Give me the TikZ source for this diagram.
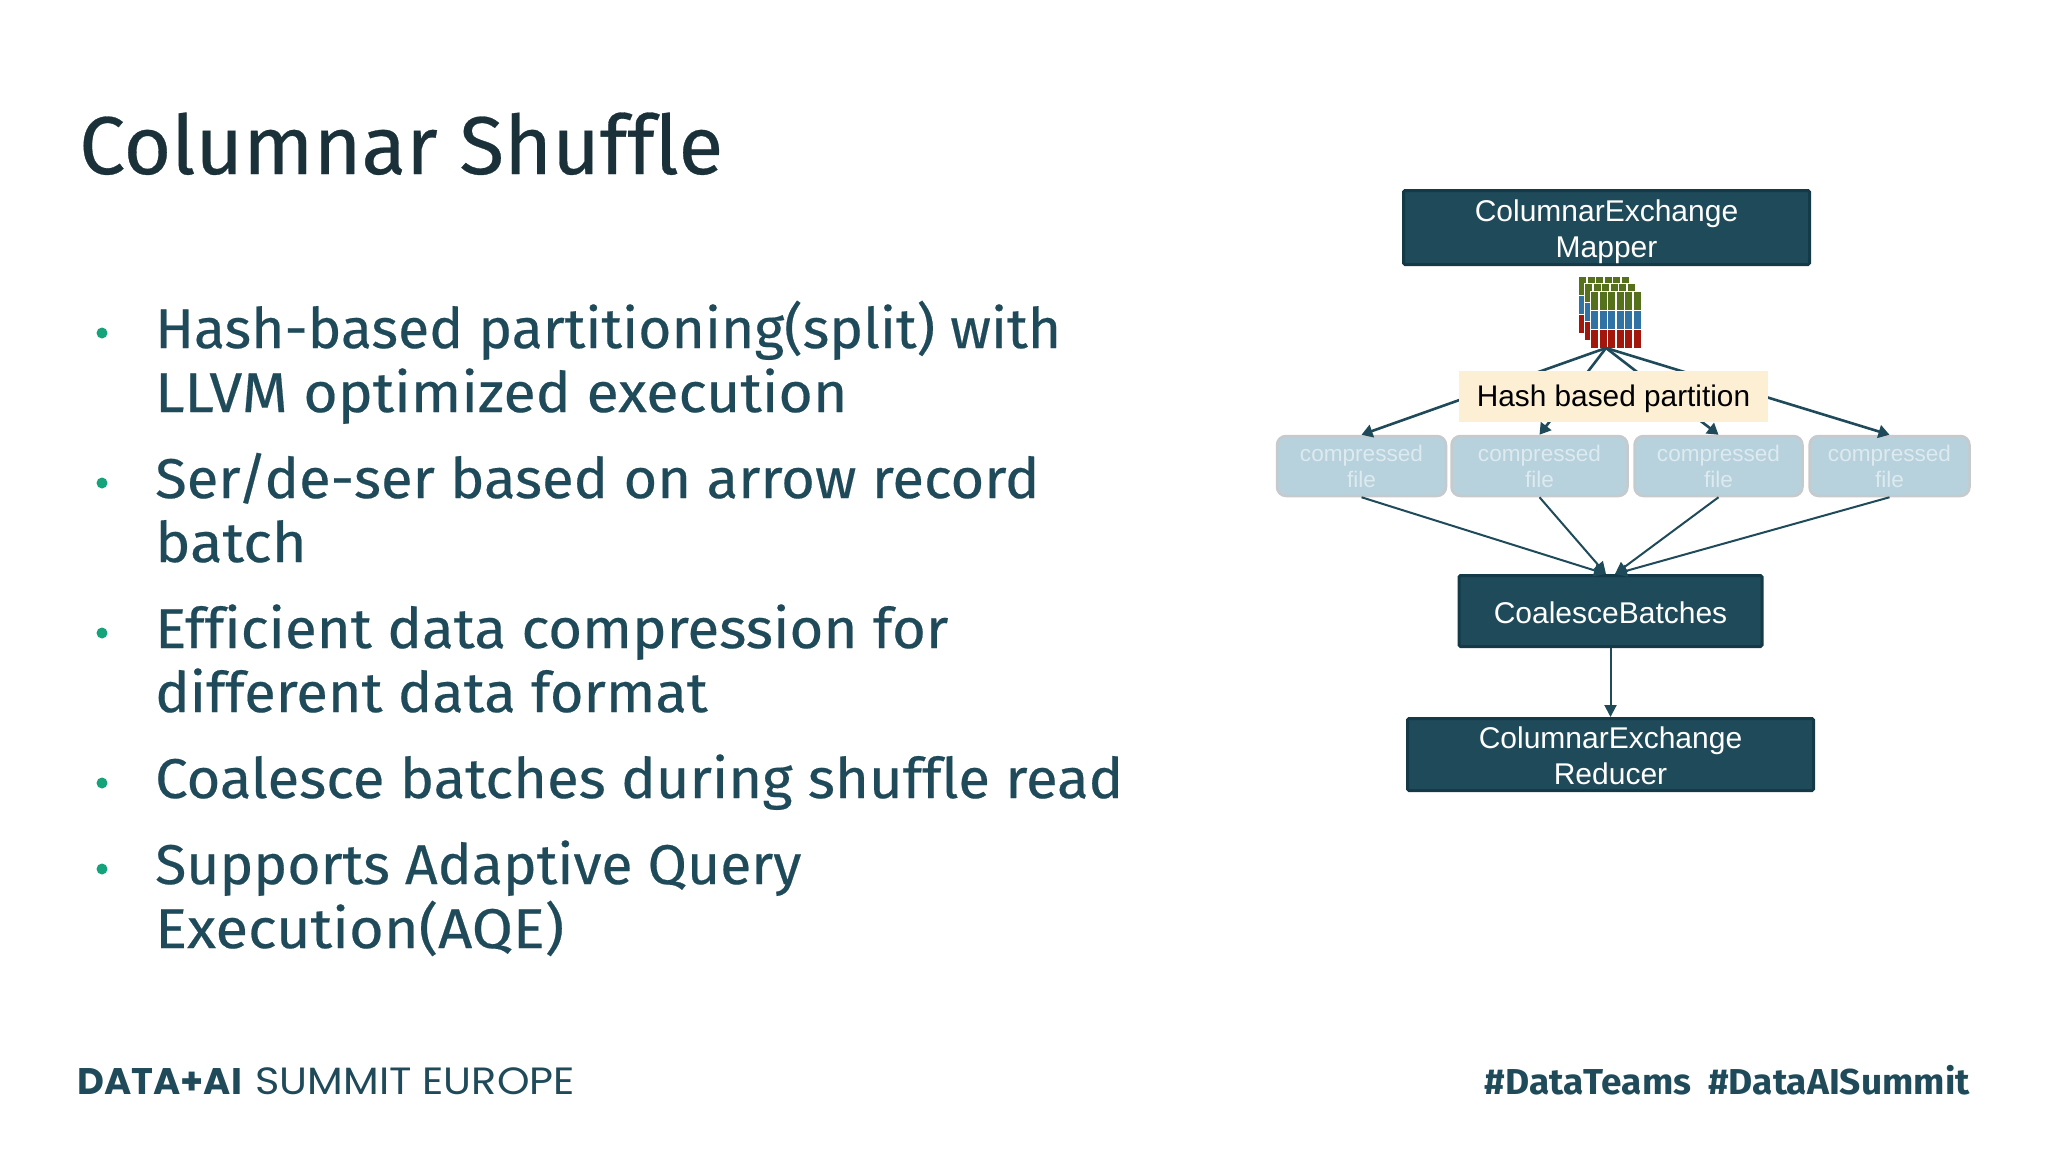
\documentclass[tikz,border=0pt]{standalone}
\usepackage{graphicx}
\usepackage{fontspec}
\setmainfont{Liberation Sans}
\newfontfamily\bodyfont[FakeBold=0.35,Ligatures=NoCommon]{Fira Sans}
\newfontfamily\titlefont[FakeBold=0.35,Ligatures=NoCommon]{Fira Sans}
\newfontfamily\tagfont[FakeStretch=1.03]{Fira Sans}
\newfontfamily\footfont{Poppins}
\newfontfamily\footwide[FakeStretch=1.09]{Poppins}
\newcommand{\sx}[2]{\scalebox{#1}[1]{#2}}
\definecolor{titlecol}{HTML}{1B3139}
\definecolor{bodycol}{HTML}{1F4A59}
\definecolor{boxcol}{HTML}{1F4A59}
\definecolor{boxedge}{HTML}{143A48}
\definecolor{bulletcol}{HTML}{14A37A}
\definecolor{hashcol}{HTML}{FDEFD3}
\definecolor{filecol}{HTML}{B7D2DC}
\definecolor{fileedge}{HTML}{C6CACD}
\definecolor{filetext}{HTML}{DDEAEF}
\definecolor{cgreen}{HTML}{55711B}
\definecolor{cblue}{HTML}{2F72A3}
\definecolor{cred}{HTML}{A3160C}
\usetikzlibrary{arrows.meta}
\tikzset{
 darkbox/.style={draw=boxedge,line width=3pt,fill=boxcol,text=white,align=center,inner sep=0pt,rounded corners=1.5pt,
   font=\fontsize{30}{36}\selectfont},
 filebox/.style={draw=fileedge,line width=2.5pt,fill=filecol,text=filetext,align=center,inner sep=0pt,rounded corners=9pt,
   minimum height=60pt,font=\fontsize{22.6}{26}\selectfont},
 arrowa/.style={draw=bodycol,line width=2.6pt,-{Triangle[length=11pt,width=13pt]}},
 arrowb/.style={draw=bodycol,line width=2pt,-{Triangle[length=12pt,width=12pt]}},
 bodytext/.style={anchor=base west,inner sep=0pt,text=bodycol,font=\bodyfont\fontsize{56}{64}\selectfont},
 bulletdot/.style={circle,fill=bulletcol,inner sep=0pt,minimum size=11pt},
}
\begin{document}
\begin{tikzpicture}[x=1pt,y=-1pt]
\useasboundingbox (0,0) rectangle (2048,1152);
% title
\node[anchor=base west,inner sep=0pt,text=titlecol,font=\titlefont\fontsize{82}{90}\selectfont] (title) at (79,174) {Columnar Shuffle};
% bullets
\node[bulletdot] (b1) at (102,333) {};
\node[bulletdot] (b2) at (102,483) {};
\node[bulletdot] (b3) at (102,633) {};
\node[bulletdot] (b4) at (102,783) {};
\node[bulletdot] (b5) at (102,869) {};
\node[bodytext] (l1) at (155,348) {\sx{1.019}{Hash-based partitioning(split) with}};
\node[bodytext] (l2) at (155,412) {\sx{1.054}{LLVM optimized execution}};
\node[bodytext] (l3) at (155,498) {\sx{1.034}{Ser/de-ser based on arrow record}};
\node[bodytext] (l4) at (155,562) {\sx{1.066}{batch}};
\node[bodytext] (l5) at (155,648) {\sx{1.04}{Efficient data compression for}};
\node[bodytext] (l6) at (155,712) {\sx{1.032}{different data format}};
\node[bodytext] (l7) at (155,798) {\sx{1.036}{Coalesce batches during shuffle read}};
\node[bodytext] (l8) at (155,884) {\sx{1.019}{Supports Adaptive Query}};
\node[bodytext] (l9) at (155,948) {\sx{1.065}{Execution(AQE)}};
% boxes
\node[darkbox,minimum width=406pt,minimum height=74pt] (mapper) at (1606.5,227.5) {\rule{0pt}{30pt}ColumnarExchange\\Mapper};
\node[darkbox,minimum width=303pt,minimum height=71pt] (coal) at (1610.5,611) {\rule{0pt}{24.5pt}CoalesceBatches};
\node[darkbox,minimum width=406pt,minimum height=72pt] (reducer) at (1610.5,754.5) {\rule{0pt}{25pt}ColumnarExchange\\Reducer};
% files
\node[filebox,minimum width=169pt] (f1) at (1361.5,466) {compressed\\file};
\node[filebox,minimum width=176pt] (f2) at (1539.5,466) {compressed\\file};
\node[filebox,minimum width=168pt] (f3) at (1718.5,466) {compressed\\file};
\node[filebox,minimum width=160pt] (f4) at (1889.5,466) {compressed\\file};
% batch icon
\foreach \dx/\dy in {-12/-15,-6/-8,0/0}{
 \foreach \i in {0,...,5}{
  \fill[white] (1590+\dx+\i*8.55,291+\dy) rectangle ++(8.55,57);
  \fill[cgreen] (1591+\dx+\i*8.55,292+\dy) rectangle ++(7.2,17.5);
  \fill[cblue] (1591+\dx+\i*8.55,311+\dy) rectangle ++(7.2,17.5);
  \fill[cred] (1591+\dx+\i*8.55,330+\dy) rectangle ++(7.2,17.5);
 }
}
\coordinate (src) at (1606,348);
\draw[arrowa] (src) -- (f1.north);
\draw[arrowa] (src) -- (f2.north);
\draw[arrowa] (src) -- (f3.north);
\draw[arrowa] (src) -- (f4.north);
\node[fill=hashcol,text=black,minimum width=309pt,minimum height=51pt,inner sep=0pt,font=\fontsize{29.8}{36}\selectfont] (hash) at (1613.5,396.5) {\rule{0pt}{27pt}Hash based partition\hspace{4pt}};
% lower arrows
\coordinate (cl) at (1606,574);
\coordinate (cr) at (1615,574);
\draw[arrowb] (f1.south) -- (cl);
\draw[arrowb] (f2.south) -- (cl);
\draw[arrowb] (f3.south) -- (cr);
\draw[arrowb] (f4.south) -- (cr);
\draw[arrowb] (coal.south) -- (reducer.north);
% footer
\node[anchor=base west,inner sep=0pt,text=bodycol,font=\fontsize{38}{40}\selectfont] (foot) at (77,1094) {{\footfont\bfseries\fontsize{37}{40}\selectfont DATA+AI}\hspace{13.5pt}{\footwide SUMMIT EUROPE}};
\node[anchor=base east,inner sep=0pt,text=bodycol,font=\tagfont\bfseries\fontsize{36}{40}\selectfont] (tags) at (1970,1094) {\#DataTeams\hspace{17pt}\#DataAISummit};
\end{tikzpicture}
\end{document}
